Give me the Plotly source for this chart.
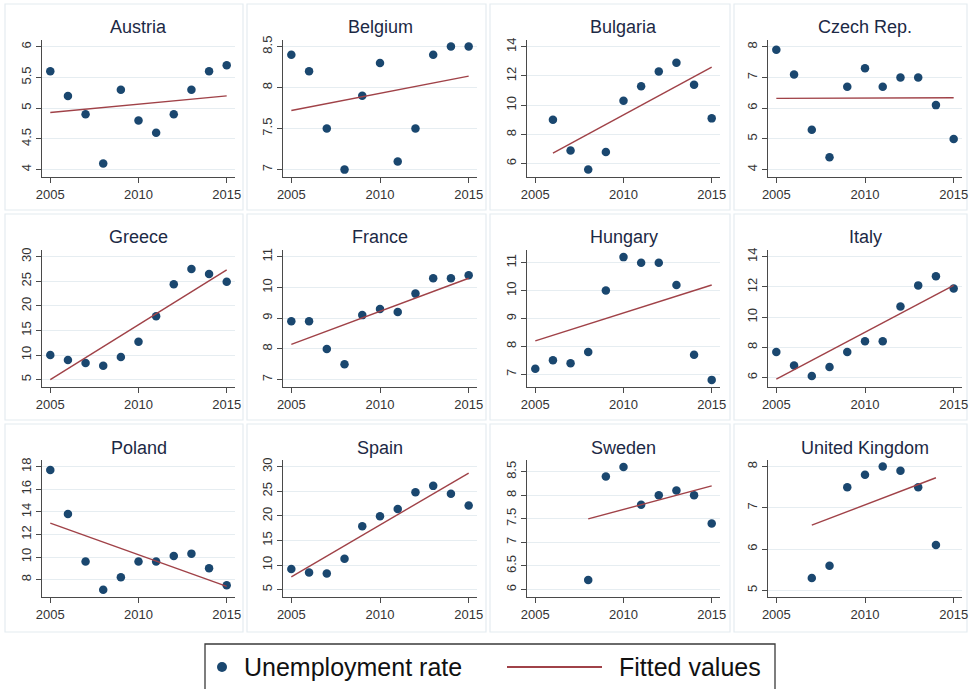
import plotly.graph_objects as go

W, H = 970, 689

countries = ["Austria", "Belgium", "Bulgaria", "Czech Rep.",
             "Greece", "France", "Hungary", "Italy",
             "Poland", "Spain", "Sweden", "United Kingdom"]

years_full = [2005, 2006, 2007, 2008, 2009, 2010, 2011, 2012, 2013, 2014, 2015]
years_bg = [2006, 2007, 2008, 2009, 2010, 2011, 2012, 2013, 2014, 2015]
years_se = [2008, 2009, 2010, 2011, 2012, 2013, 2014, 2015]
years_uk = [2007, 2008, 2009, 2010, 2011, 2012, 2013, 2014]

austria = [5.6, 5.2, 4.9, 4.1, 5.3, 4.8, 4.6, 4.9, 5.3, 5.6, 5.7]
belgium = [8.4, 8.2, 7.5, 7.0, 7.9, 8.3, 7.1, 7.5, 8.4, 8.5, 8.5]
bulgaria = [9.0, 6.9, 5.6, 6.8, 10.3, 11.3, 12.3, 12.9, 11.4, 9.1]
czech = [7.9, 7.1, 5.3, 4.4, 6.7, 7.3, 6.7, 7.0, 7.0, 6.1, 5.0]
greece = [10.0, 9.0, 8.4, 7.8, 9.6, 12.7, 17.9, 24.4, 27.5, 26.5, 24.9]
france = [8.9, 8.9, 8.0, 7.5, 9.1, 9.3, 9.2, 9.8, 10.3, 10.3, 10.4]
hungary = [7.2, 7.5, 7.4, 7.8, 10.0, 11.2, 11.0, 11.0, 10.2, 7.7, 6.8]
italy = [7.7, 6.8, 6.1, 6.7, 7.7, 8.4, 8.4, 10.7, 12.1, 12.7, 11.9]
poland = [17.7, 13.8, 9.6, 7.1, 8.2, 9.6, 9.6, 10.1, 10.3, 9.0, 7.5]
spain = [9.2, 8.5, 8.3, 11.3, 17.9, 19.9, 21.4, 24.8, 26.1, 24.5, 22.1]
sweden = [6.2, 8.4, 8.6, 7.8, 8.0, 8.1, 8.0, 7.4]
uk = [5.3, 5.6, 7.5, 7.8, 8.0, 7.9, 7.5, 6.1]

# fitted values at first and last year
fit_start = [4.93, 7.72, 6.72, 6.32, 5.0, 8.15, 8.2, 5.9, 13.0, 7.6, 7.5, 6.58]
fit_end = [5.20, 8.14, 12.6, 6.34, 27.3, 10.3, 10.2, 12.1, 7.4, 28.7, 8.2, 7.73]

yticks = [[4, 4.5, 5, 5.5, 6], [7, 7.5, 8, 8.5], [6, 8, 10, 12, 14], [4, 5, 6, 7, 8],
          [5, 10, 15, 20, 25, 30], [7, 8, 9, 10, 11], [7, 8, 9, 10, 11], [6, 8, 10, 12, 14],
          [8, 10, 12, 14, 16, 18], [5, 10, 15, 20, 25, 30], [6, 6.5, 7, 7.5, 8, 8.5], [5, 6, 7, 8]]
xticks = [2005, 2010, 2015]

legend_labels = ["Unemployment rate", "Fitted values"]

series_x = [years_full, years_full, years_bg, years_full,
            years_full, years_full, years_full, years_full,
            years_full, years_full, years_se, years_uk]
series_y = [austria, belgium, bulgaria, czech, greece, france,
            hungary, italy, poland, spain, sweden, uk]

yranges = [[3.88, 6.11], [6.91, 8.58], [5.09, 14.46], [3.76, 8.22],
           [3.5, 31.36], [6.76, 11.22], [6.545, 11.455], [5.38, 14.44],
           [6.46, 18.59], [3.5, 31.36], [5.84, 8.75], [4.84, 8.16]]

NAVY = "#1a476f"
MAROON = "#a04248"
FONT = "Liberation Sans, Arial, sans-serif"

col_px = [(42, 235), (283, 477), (527, 720), (768, 962)]
row_px = [(40, 177), (250, 387), (460, 597)]
title_px = [27, 237, 448]
cell_cols = [(5, 243), (247, 486), (490, 730), (734, 967)]
cell_rows = [(4, 210), (214, 420), (424, 632)]


def px(xp):
    return xp / W


def py(yp):
    return 1 - yp / H


fig = go.Figure()
shapes = []
annotations = []

for i, name in enumerate(countries):
    r, c = divmod(i, 4)
    n = i + 1
    xa = "x" if n == 1 else f"x{n}"
    ya = "y" if n == 1 else f"y{n}"
    xs = series_x[i]
    fig.add_trace(go.Scatter(
        x=xs, y=series_y[i], mode="markers", xaxis=xa, yaxis=ya,
        marker=dict(color=NAVY, size=8.5, line=dict(width=0)),
        name=legend_labels[0], showlegend=False))
    fig.add_trace(go.Scatter(
        x=[xs[0], xs[-1]], y=[fit_start[i], fit_end[i]], mode="lines",
        xaxis=xa, yaxis=ya, line=dict(color=MAROON, width=1.4),
        name=legend_labels[1], showlegend=False))

    x0, x1 = col_px[c]
    y0, y1 = row_px[r]
    axcommon = dict(showline=True, linecolor="#4a4a4a", linewidth=1,
                    ticks="outside", ticklen=5, tickcolor="#4a4a4a",
                    tickfont=dict(size=13, color="#333333", family=FONT),
                    zeroline=False, ticklabeloverflow="allow")
    fig.layout[("xaxis" if n == 1 else f"xaxis{n}")] = dict(
        domain=[px(x0), px(x1)], anchor=ya, range=[2004.53, 2015.47],
        tickvals=xticks, showgrid=False, **axcommon)
    fig.layout[("yaxis" if n == 1 else f"yaxis{n}")] = dict(
        domain=[py(y1), py(y0)], anchor=xa, range=yranges[i],
        tickvals=yticks[i], tickangle=-90, showgrid=True,
        gridcolor="#e6edf1", gridwidth=1, **axcommon)

    annotations.append(dict(
        x=px((x0 + x1) / 2), y=py(title_px[r]), xref="paper", yref="paper",
        text=name, showarrow=False, xanchor="center", yanchor="middle",
        font=dict(size=18, color="#1c2945", family=FONT)))

    cx0, cx1 = cell_cols[c]
    cy0, cy1 = cell_rows[r]
    shapes.append(dict(type="rect", xref="paper", yref="paper",
                       x0=px(cx0), x1=px(cx1), y0=py(cy1), y1=py(cy0),
                       line=dict(color="#e4ecf0", width=1.2), fillcolor="rgba(0,0,0,0)",
                       layer="below"))

# legend (drawn by hand; bottom edge of the box runs off the page as in the reference)
LEG_Y = 667
shapes.append(dict(type="rect", xref="paper", yref="paper",
                   x0=px(205), x1=px(775), y0=py(700), y1=py(644),
                   line=dict(color="#3a3a3a", width=1.3), fillcolor="rgba(0,0,0,0)"))
shapes.append(dict(type="circle", xref="paper", yref="paper",
                   x0=px(217), x1=px(227), y0=py(LEG_Y + 5), y1=py(LEG_Y - 5),
                   line=dict(color=NAVY, width=0), fillcolor=NAVY))
shapes.append(dict(type="line", xref="paper", yref="paper",
                   x0=px(507), x1=px(602), y0=py(LEG_Y), y1=py(LEG_Y),
                   line=dict(color=MAROON, width=2)))
annotations.append(dict(x=px(242), y=py(LEG_Y), xref="paper", yref="paper",
                        text=legend_labels[0], showarrow=False, xanchor="left",
                        yanchor="middle", font=dict(size=25, color="#111111", family=FONT)))
annotations.append(dict(x=px(617), y=py(LEG_Y), xref="paper", yref="paper",
                        text=legend_labels[1], showarrow=False, xanchor="left",
                        yanchor="middle", font=dict(size=25, color="#111111", family=FONT)))

fig.update_layout(
    width=W, height=H, margin=dict(l=0, r=0, t=0, b=0, autoexpand=False),
    paper_bgcolor="white", plot_bgcolor="white",
    shapes=shapes, annotations=annotations,
    font=dict(family=FONT), showlegend=False,
)

fig.write_html("out.html", config={"displayModeBar": False},
               post_script="document.body.style.margin='0';document.body.style.overflow='hidden';")
